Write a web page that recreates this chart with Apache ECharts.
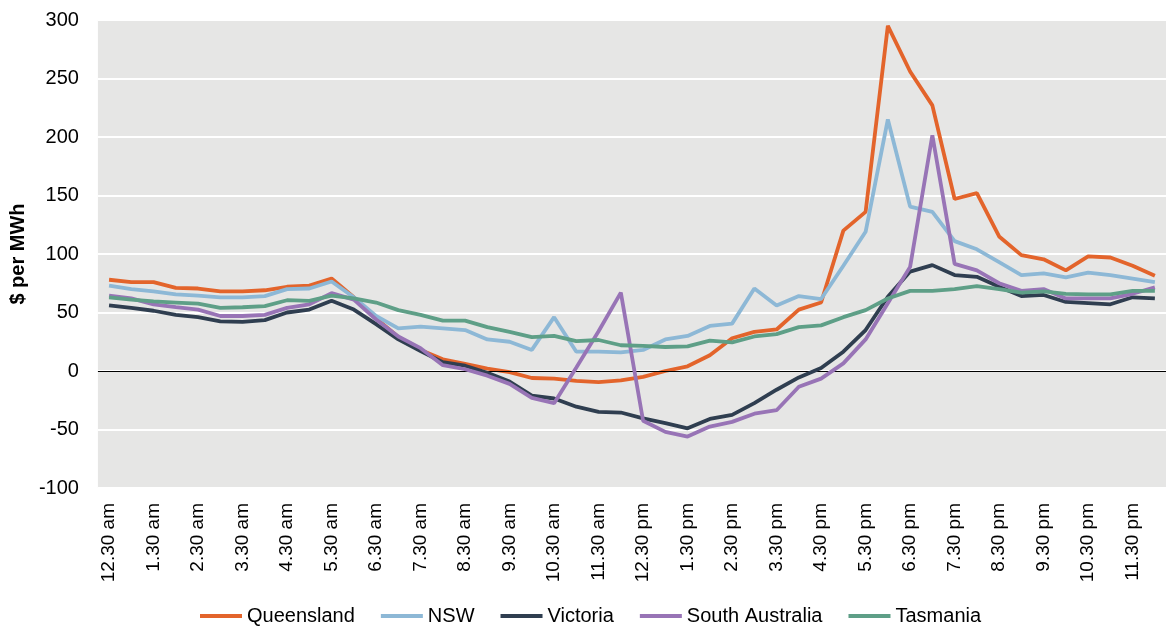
<!DOCTYPE html>
<html>
<head>
<meta charset="utf-8">
<script src="https://cdn.jsdelivr.net/npm/echarts@6/dist/echarts.min.js"></script>
<style>
html,body{margin:0;padding:0;background:#fff;}
#chart{width:1166px;height:626px;}
</style>
</head>
<body>
<div id="chart"></div>
<script>
var categories = [
  "12.30 am","1 am","1.30 am","2 am","2.30 am","3 am","3.30 am","4 am","4.30 am","5 am","5.30 am","6 am",
  "6.30 am","7 am","7.30 am","8 am","8.30 am","9 am","9.30 am","10 am","10.30 am","11 am","11.30 am","12 pm",
  "12.30 pm","1 pm","1.30 pm","2 pm","2.30 pm","3 pm","3.30 pm","4 pm","4.30 pm","5 pm","5.30 pm","6 pm",
  "6.30 pm","7 pm","7.30 pm","8 pm","8.30 pm","9 pm","9.30 pm","10 pm","10.30 pm","11 pm","11.30 pm","12 am"
];
var queensland = [78,76,76,71,70.5,68,68,69,72,73,79,63,45,29,18,10,6,2,-1,-6,-6.5,-8.5,-9.5,-8,-5,0,4,13.5,28,33.5,35.5,52.5,58.5,120,136,295,256,227,147,152,115,99,95.5,86,98,97,90,81.5];
var nsw = [73,70,68,65.5,64.5,63,63,64,70,70.5,76.5,63,47,36.5,38,36.5,35,27,25,18,46,16.5,16.5,16,18,27,30,38.5,40.5,70.5,56,64,61.5,90,119,215,140.5,136,111,104,93,82,83.5,80,84,82,79,76];
var victoria = [56,54,51.5,48,46,42.5,42,43.5,50,52.5,60,52.5,40,27,17,7.5,4.5,-1.5,-9,-21,-23.5,-30.5,-35,-35.5,-40.5,-44.5,-49,-41,-37.5,-27.5,-16,-5.5,2.5,16.5,35,63.5,85,90.5,82,80.5,72,64,65,59,58,57,63,62];
var southAustralia = [64.5,62,57,54.5,52.5,47,47,48,54,57,66.5,61,44,29.5,19.5,5,1.5,-4,-11,-23,-27.5,3,34,67,-42.5,-52,-56,-47.5,-43.5,-36.5,-33.5,-13.5,-6.5,6.5,27,58,89,201.5,91.5,86,75,68.5,70,62,62,62,66,71.5];
var tasmania = [63,61,59.5,58.5,57.5,54,54.5,55.5,60.5,60,64.5,62,58.5,52,48,43,43,37.5,33.5,29,30,25.5,26.5,22,21.5,20.5,21,26,24.5,29.5,31.5,37.5,39,46,52,62,68.5,68.5,70,72.5,70,67,68,66,65.5,65.5,68.5,68.5];
var seriesNames = ["Queensland","NSW","Victoria","South Australia","Tasmania"];
var seriesColors = ["#E3642B","#8DB8D6","#2F3E50","#9874B6","#5E9F87"];
var yTicks = [-100,-50,0,50,100,150,200,250,300];

var allData = [queensland, nsw, victoria, southAustralia, tasmania];
var font = "Liberation Sans, Arial, sans-serif";

var series = allData.map(function(d, i){
  return {
    name: seriesNames[i],
    type: 'line',
    data: d,
    symbol: 'none',
    smooth: false,
    lineStyle: {width: 3.8, color: seriesColors[i]},
    itemStyle: {color: seriesColors[i]},
    z: 3 + i
  };
});
// zero line
series.unshift({
  name: 'zero',
  type: 'line',
  data: [],
  z: 2,
  markLine: {
    silent: true,
    symbol: 'none',
    label: {show: false},
    lineStyle: {color: '#000', width: 1.2, type: 'solid'},
    data: [{yAxis: 0}]
  }
});

var chart = echarts.init(document.getElementById('chart'), null, {renderer: 'canvas'});
chart.setOption({
  animation: false,
  backgroundColor: '#fff',
  grid: {
    left: 94, right: 0, top: 20, bottom: 138,
    show: true, backgroundColor: '#E6E6E5', borderWidth: 0,
    containLabel: false
  },
  legend: {
    data: seriesNames,
    top: 601,
    left: 195,
    icon: 'rect',
    itemWidth: 42,
    itemHeight: 4,
    itemGap: 26,
    textStyle: {fontSize: 20, color: '#000', fontFamily: font}
  },
  xAxis: {
    type: 'category',
    data: categories,
    boundaryGap: true,
    axisLine: {show: false},
    axisTick: {show: false},
    splitLine: {show: false},
    axisLabel: {
      interval: 1,
      rotate: 90,
      margin: 15,
      fontSize: 19,
      color: '#000',
      fontFamily: font
    }
  },
  yAxis: {
    type: 'value',
    min: yTicks[0],
    max: yTicks[yTicks.length-1],
    interval: 50,
    name: '$ per MWh',
    nameLocation: 'middle',
    nameGap: 62,
    nameRotate: 90,
    nameTextStyle: {fontSize: 20, fontWeight: 'bold', color: '#000', fontFamily: font},
    axisLine: {show: false},
    axisTick: {show: false},
    axisLabel: {fontSize: 20, color: '#000', margin: 19, fontFamily: font},
    splitLine: {lineStyle: {color: '#fff', width: 2}}
  },
  series: series
});
</script>
</body>
</html>
